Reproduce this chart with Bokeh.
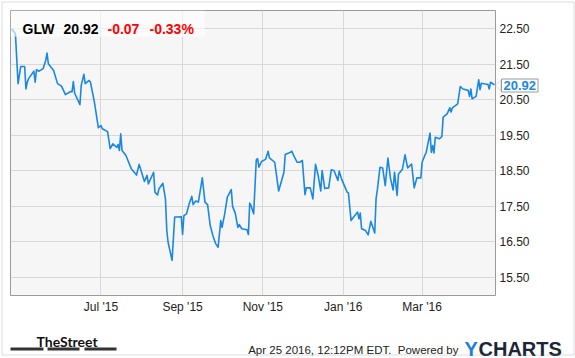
import pandas as pd
from bokeh.plotting import figure
from bokeh.models import (Range1d, FixedTicker, DatetimeTickFormatter, NumeralTickFormatter,
                          Label, BoxAnnotation, PolyAnnotation, ColumnDataSource, GridBox, Column)
from bokeh.embed import file_html
from bokeh.resources import INLINE

# ---------------- data ----------------
ticker_symbol = "GLW"
last_price = "20.92"
change_abs = "-0.07"
change_pct = "-0.33%"

dates = [
    "2015-04-24", "2015-04-27", "2015-04-29", "2015-05-01", "2015-05-04", "2015-05-05", "2015-05-06",
    "2015-05-07", "2015-05-11", "2015-05-12", "2015-05-13", "2015-05-15", "2015-05-18", "2015-05-20",
    "2015-05-21", "2015-05-22", "2015-05-26", "2015-05-29", "2015-06-01", "2015-06-04", "2015-06-08",
    "2015-06-09", "2015-06-10", "2015-06-11", "2015-06-15", "2015-06-16", "2015-06-18", "2015-06-19",
    "2015-06-22", "2015-06-23", "2015-06-26", "2015-06-29", "2015-07-01", "2015-07-02", "2015-07-06",
    "2015-07-08", "2015-07-10", "2015-07-13", "2015-07-14", "2015-07-15", "2015-07-16", "2015-07-17",
    "2015-07-20", "2015-07-22", "2015-07-24", "2015-07-28", "2015-07-30", "2015-08-03", "2015-08-05",
    "2015-08-06", "2015-08-10", "2015-08-11", "2015-08-13", "2015-08-14", "2015-08-17", "2015-08-19",
    "2015-08-20", "2015-08-21", "2015-08-24", "2015-08-26", "2015-08-28", "2015-08-31", "2015-09-01",
    "2015-09-02", "2015-09-04", "2015-09-06", "2015-09-08", "2015-09-09", "2015-09-11", "2015-09-13",
    "2015-09-16", "2015-09-18", "2015-09-20", "2015-09-22", "2015-09-24", "2015-09-26", "2015-09-28",
    "2015-09-30", "2015-10-01", "2015-10-03", "2015-10-05", "2015-10-08", "2015-10-09", "2015-10-11",
    "2015-10-13", "2015-10-14", "2015-10-16", "2015-10-20", "2015-10-21", "2015-10-22", "2015-10-23",
    "2015-10-25", "2015-10-27", "2015-10-28", "2015-10-29", "2015-10-31", "2015-11-03", "2015-11-05",
    "2015-11-06", "2015-11-10", "2015-11-13", "2015-11-17", "2015-11-18", "2015-11-22", "2015-11-23",
    "2015-11-24", "2015-11-27", "2015-11-29", "2015-12-01", "2015-12-03", "2015-12-04", "2015-12-07",
    "2015-12-09", "2015-12-11", "2015-12-13", "2015-12-15", "2015-12-16", "2015-12-18", "2015-12-21",
    "2015-12-23", "2015-12-25", "2015-12-28", "2015-12-29", "2015-12-31", "2016-01-04", "2016-01-05",
    "2016-01-07", "2016-01-09", "2016-01-12", "2016-01-13", "2016-01-14", "2016-01-15", "2016-01-18",
    "2016-01-20", "2016-01-22", "2016-01-25", "2016-01-26", "2016-01-27", "2016-01-29", "2016-01-31",
    "2016-02-02", "2016-02-04", "2016-02-06", "2016-02-08", "2016-02-09", "2016-02-11", "2016-02-12",
    "2016-02-15", "2016-02-17", "2016-02-19", "2016-02-22", "2016-02-24", "2016-02-26", "2016-02-29",
    "2016-03-01", "2016-03-03", "2016-03-04", "2016-03-07", "2016-03-08", "2016-03-09", "2016-03-10",
    "2016-03-11", "2016-03-14", "2016-03-16", "2016-03-17", "2016-03-20", "2016-03-22", "2016-03-23",
    "2016-03-24", "2016-03-28", "2016-03-30", "2016-04-01", "2016-04-05", "2016-04-06", "2016-04-07",
    "2016-04-08", "2016-04-11", "2016-04-13", "2016-04-14", "2016-04-15", "2016-04-18", "2016-04-20",
    "2016-04-21", "2016-04-22", "2016-04-24", "2016-04-25",
]
prices = [
    22.49, 22.35, 20.95, 21.43, 21.43, 20.80, 20.99,
    21.09, 21.30, 20.99, 21.34, 21.30, 21.37, 21.60,
    21.81, 21.51, 21.32, 20.95, 20.88, 20.64, 20.73,
    20.72, 21.01, 20.68, 20.36, 20.90, 21.21, 20.95,
    21.04, 20.99, 20.43, 19.71, 19.77, 19.68, 19.60,
    19.12, 19.26, 19.16, 19.24, 19.07, 19.54, 19.07,
    18.93, 18.74, 18.56, 18.38, 18.68, 18.20, 18.37,
    18.13, 18.46, 17.90, 17.82, 17.99, 18.15, 17.70,
    16.82, 16.49, 15.98, 17.20, 17.20, 17.21, 16.71,
    17.24, 17.29, 17.57, 17.78, 17.55, 17.65, 17.62,
    18.30, 17.62, 17.55, 16.96, 16.68, 16.46, 16.35,
    17.10, 16.91, 17.29, 17.76, 17.97, 17.50, 17.31,
    16.91, 16.99, 16.87, 16.84, 16.71, 17.59, 17.52,
    17.29, 18.81, 18.84, 18.60, 18.76, 18.82, 19.05,
    18.86, 18.74, 17.93, 18.46, 18.96, 19.02, 19.05,
    18.96, 18.74, 18.74, 18.79, 17.83, 18.02, 18.02,
    17.71, 18.68, 18.37, 17.93, 18.51, 18.00, 18.02,
    18.53, 18.51, 18.23, 18.49, 18.25, 17.90, 17.88,
    17.10, 17.20, 17.34, 17.15, 17.31, 16.87, 16.82,
    16.70, 17.08, 16.75, 17.71, 17.97, 18.60, 18.58,
    18.08, 18.86, 18.28, 17.96, 18.46, 17.81, 18.40,
    18.54, 18.95, 18.58, 18.69, 18.02, 18.30, 18.30,
    18.74, 18.93, 19.00, 19.56, 19.02, 19.21, 19.00,
    19.44, 19.40, 19.46, 20.01, 20.10, 20.27, 20.15,
    20.27, 20.38, 20.87, 20.80, 20.76, 20.59, 20.80,
    20.52, 20.59, 21.06, 20.78, 20.96, 20.94, 20.93,
    20.80, 20.99, 20.94, 20.92,
]

x_tick_dates = ["2015-07-01", "2015-09-01", "2015-11-01", "2016-01-01", "2016-03-01"]
y_ticks = [15.5, 16.5, 17.5, 18.5, 19.5, 20.5, 21.5, 22.5]
footer_text = "Apr 25 2016, 12:12PM EDT.\u00a0 Powered by"

# ---------------- main figure ----------------
FONT = "Liberation Sans"
LINE_BLUE = "#1a88e3"
W, H = 575, 358

src = ColumnDataSource(dict(date=pd.to_datetime(dates), price=prices))

p = figure(width=W, height=H, x_axis_type="datetime", y_axis_location="right",
           output_backend="svg", toolbar_location=None,
           x_range=Range1d(pd.Timestamp("2015-04-23 06:00"), pd.Timestamp("2016-04-25 18:00")),
           y_range=Range1d(14.994, 23.006),
           min_border_left=10, min_border_right=80, min_border_top=10, min_border_bottom=63)

p.background_fill_color = "#f6f6f6"
p.border_fill_color = "white"
p.outline_line_color = "#9a9a9a"
p.outline_line_width = 1

p.line("date", "price", source=src, line_color=LINE_BLUE, line_width=1.6, line_join="round")

tick_ms = [pd.Timestamp(d).value // 10**6 for d in x_tick_dates]
p.xaxis.ticker = FixedTicker(ticks=tick_ms)
p.xaxis.formatter = DatetimeTickFormatter(months="%b '%y", days="%b '%y")
p.yaxis.ticker = FixedTicker(ticks=y_ticks)
p.yaxis.formatter = NumeralTickFormatter(format="0.00")

for ax in (p.xaxis[0], p.yaxis[0]):
    ax.axis_line_color = None
    ax.major_tick_line_color = None
    ax.minor_tick_line_color = None
    ax.major_tick_out = 0
    ax.major_tick_in = 0
    ax.major_label_text_font = FONT
    ax.major_label_text_font_size = "12px"
    ax.major_label_text_color = "#222222"
p.xaxis.major_label_standoff = 4
p.yaxis.major_label_standoff = 4

p.xgrid.grid_line_color = "#d8d8d8"
p.ygrid.grid_line_color = "#d8d8d8"

# semi transparent box behind the title (fades the line beneath it)
p.add_layout(BoxAnnotation(left=10, right=204, top=10, bottom=36,
                           left_units="canvas", right_units="canvas",
                           top_units="canvas", bottom_units="canvas",
                           fill_color="white", fill_alpha=0.6, line_color=None, level="annotation"))

# ---------------- overlay figure for texts around the plot ----------------
ov = figure(width=W, height=H, output_backend="svg", toolbar_location=None,
            x_range=Range1d(0, W), y_range=Range1d(H, 0),
            x_axis_location=None, y_axis_location=None,
            min_border=0, min_border_left=0, min_border_right=0, min_border_top=0, min_border_bottom=0)
ov.grid.visible = False
ov.outline_line_color = None
ov.background_fill_color = None
ov.border_fill_color = None


def lab(x, y, text, size, color, bold=False, font=FONT, align="left", baseline="alphabetic", **kw):
    ov.add_layout(Label(x=x, y=y, x_units="canvas", y_units="canvas", text=text,
                        text_font=font, text_font_size=size, text_color=color,
                        text_font_style="bold" if bold else "normal",
                        text_align=align, text_baseline=baseline, **kw))


lab(22, 28, ticker_symbol, "14px", "#000000", bold=True)
lab(63, 28, last_price, "14px", "#000000", bold=True)
lab(107, 28, change_abs, "14px", "#ff0000", bold=True)
lab(149, 28, change_pct, "14px", "#ff0000", bold=True)

# last price tag
ov.add_layout(PolyAnnotation(xs=[500, 495, 500], ys=[80, 85, 90], xs_units="canvas", ys_units="canvas",
                             fill_color="white", line_color="#9a9a9a", line_width=1))
lab(501, 85, last_price, "13px", LINE_BLUE, bold=True, baseline="middle",
    border_line_color="#9a9a9a", background_fill_color="white", padding=2)

# footer
lab(36, 341, "TheStreet", "14px", "#111111", bold=True, font="Lato")
for l, r in [(10, 43), (47, 79), (84, 116)]:
    ov.add_layout(BoxAnnotation(left=l, right=r, top=347, bottom=350,
                                left_units="canvas", right_units="canvas",
                                top_units="canvas", bottom_units="canvas",
                                fill_color="#333333", fill_alpha=1, line_color=None))
lab(458, 349, footer_text, "11.5px", "#222222", align="right")
lab(464, 348, "Y", "20px", "#1a7fd8", bold=True)
lab(478, 348, "CHARTS", "20px", "#1b2636", bold=True)

# outer frame
ov.add_layout(BoxAnnotation(left=1.5, right=573.5, top=1.5, bottom=354.5,
                            left_units="canvas", right_units="canvas",
                            top_units="canvas", bottom_units="canvas",
                            fill_color=None, line_color="#8c8c8c", line_width=1))

layout = GridBox(children=[(Column(children=[p]), 0, 0), (Column(children=[ov]), 0, 0)])

open("out.html", "w").write(file_html(layout, INLINE))
